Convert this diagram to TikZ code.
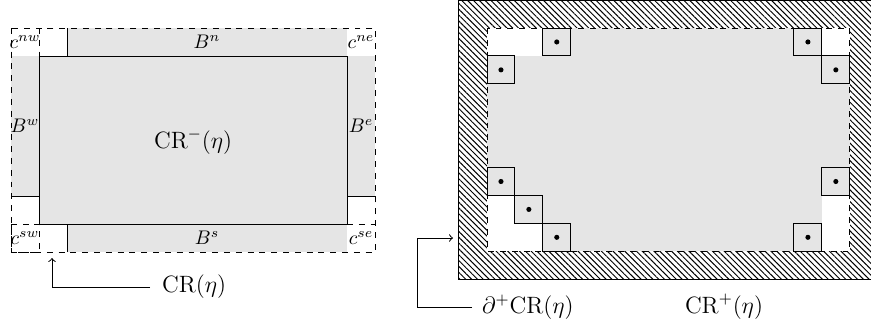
\documentclass[tikz,border=0pt]{standalone}
\usetikzlibrary{patterns.meta}
\begin{document}
\begin{tikzpicture}[x=0.017857cm,y=-0.017857cm,
  edge/.style={line width=0.5pt},
  dashedge/.style={dashed, line width=0.5pt},
  grayfill/.style={fill=black!10},
  lbl/.style={inner sep=0pt},
  biglbl/.style={inner sep=0pt, font=\large},
  cellbox/.style={draw, line width=0.5pt, fill=black!10, minimum size=0.4982cm, inner sep=0pt},
  conn/.style={line width=0.5pt}]
\useasboundingbox (0,0) rectangle (871,328);
\clip (0,0) rectangle (871,328);
% ---------------- left figure ----------------
\begin{scope}[shift={(11,28)}, x=0.5cm, y=-0.5cm]
  \fill[grayfill] (1,1) rectangle (12,7);
  \fill[grayfill] (2,0) rectangle (12,1);
  \fill[grayfill] (2,7) rectangle (12,8);
  \fill[grayfill] (0,1) rectangle (1,6);
  \fill[grayfill] (12,1) rectangle (13,6);
  % solid borders
  \draw[edge] (1,1) rectangle (12,7);
  \draw[edge] (2,0) -- (2,1);
  \draw[edge] (2,8) -- (2,7);
  \draw[edge] (0,6) -- (1,6);
  \draw[edge] (12,6) -- (13,6);
  % dashed corners and outline
  \draw[dashedge] (0,0) rectangle (13,8);
  \draw[dashedge] (0,7) rectangle (1,8);
  \draw[dashedge] (12,7) -- (13,7);
  \draw[dashedge] (1,0) -- (1,1);
  % labels
  \node[lbl] (cnw) at (0.5,0.5) {$c^{nw}$};
  \node[lbl] (cne) at (12.5,0.5) {$c^{ne}$};
  \node[lbl] (csw) at (0.5,7.5) {$c^{sw}$};
  \node[lbl] (cse) at (12.5,7.5) {$c^{se}$};
  \node[lbl] (bn) at (7,0.5) {$B^{n}$};
  \node[lbl] (bs) at (7,7.5) {$B^{s}$};
  \node[lbl] (bw) at (0.5,3.5) {$B^{w}$};
  \node[lbl] (be) at (12.5,3.5) {$B^{e}$};
  \node[biglbl] (crm) at (6.5,4.05) {$\mathrm{CR}^-(\eta)$};
\end{scope}
\coordinate (tipl) at (52,258);
\node[biglbl, anchor=west, inner xsep=6pt] (crl) at (150,287) {$\mathrm{CR}(\eta)$};
\draw[conn,->] (crl.west) -| (tipl);
% ---------------- right figure ----------------
\fill[pattern={Lines[angle=-45,distance=2.1pt,line width=0.5pt]}] (458,0.5) rectangle (878,279);
\draw[edge] (458,0.5) rectangle (878,279);
\begin{scope}[shift={(487,28)}, x=0.4982cm, y=-0.4982cm]
  \fill[white] (0,0) rectangle (13,8);
  \fill[grayfill] (0,0) rectangle (13,8);
  \fill[white] (0,0) rectangle (2,1);
  \fill[white] (12,0) rectangle (13,1);
  \fill[white] (0,6) rectangle (1,8);
  \fill[white] (1,7) rectangle (2,8);
  \fill[white] (12,6) rectangle (13,8);
  \draw[dashedge] (0,0) rectangle (13,8);
  \foreach \c/\r/\n in {2/0/q1, 0/1/q2, 11/0/q3, 12/1/q4, 0/5/q5, 1/6/q6, 2/7/q7, 12/5/q8, 11/7/q9}{
    \node[cellbox] (\n) at (\c+0.5,\r+0.5) {};
    \fill (\n.center) circle[radius=1.3pt];
  }
\end{scope}
\coordinate (tipr) at (453,238);
\coordinate (bendr) at (417,238);
\node[biglbl, anchor=west, inner xsep=5pt] (dcr) at (472,307) {$\partial^+\mathrm{CR}(\eta)$};
\draw[conn,->] (dcr.west) -| (bendr) -- (tipr);
\node[biglbl] (crp) at (724,307) {$\mathrm{CR}^+(\eta)$};
\end{tikzpicture}
\end{document}
